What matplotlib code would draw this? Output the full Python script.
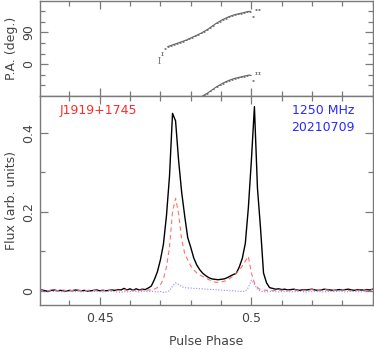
import numpy as np
import matplotlib
matplotlib.use("Agg")
import matplotlib.pyplot as plt
from matplotlib.ticker import MultipleLocator, FixedLocator

# ---------------- data ----------------
phase = np.round(np.arange(0.430, 0.5405, 0.001), 3)

total_I = [
    0.003, 0.002, 0.000, -0.001, 0.001, 0.002, 0.000, 0.001, 0.000, -0.001,
    0.001, 0.000, 0.002, 0.001, 0.000, 0.001, -0.001, 0.000, 0.001, 0.002,
    0.000, 0.001, 0.000, 0.001, 0.002, 0.001, 0.003, 0.002, 0.006, 0.002,
    0.005, 0.001, 0.005, 0.002, 0.004, 0.003, 0.007, 0.012, 0.028, 0.048,
    0.078, 0.118, 0.190, 0.290, 0.449, 0.430, 0.330, 0.250, 0.190, 0.135,
    0.110, 0.083, 0.065, 0.053, 0.044, 0.038, 0.033, 0.030, 0.029, 0.028,
    0.029, 0.030, 0.033, 0.037, 0.041, 0.044, 0.060, 0.082, 0.120, 0.210,
    0.330, 0.466, 0.260, 0.160, 0.045, 0.020, 0.008, 0.006, 0.004, 0.005,
    0.003, 0.004, 0.002, 0.003, 0.004, 0.002, 0.001, 0.003, 0.002, 0.003,
    0.004, 0.002, 0.001, 0.002, 0.004, 0.003, 0.002, 0.001, 0.002, 0.003,
    0.002, 0.003, 0.004, 0.002, 0.001, 0.003, 0.002, 0.002, 0.003, 0.002,
    0.004,
]

linear_L = [
    0.002, 0.001, 0.001, 0.000, 0.002, 0.001, 0.000, 0.001, 0.002, 0.000,
    0.000, 0.001, 0.002, 0.000, 0.001, 0.000, 0.001, 0.002, 0.001, 0.000,
    0.001, 0.002, 0.000, 0.001, 0.000, 0.002, 0.001, 0.001, 0.003, 0.001,
    0.002, 0.000, 0.002, 0.001, 0.002, 0.001, 0.002, 0.002, 0.004, 0.008,
    0.015, 0.030, 0.060, 0.110, 0.200, 0.234, 0.195, 0.130, 0.095, 0.078,
    0.063, 0.053, 0.045, 0.040, 0.036, 0.032, 0.028, 0.025, 0.022, 0.021,
    0.022, 0.024, 0.027, 0.032, 0.037, 0.044, 0.052, 0.063, 0.075, 0.087,
    0.045, 0.020, 0.008, 0.003, 0.002, 0.001, 0.002, 0.000, 0.001, 0.002,
    0.001, 0.002, 0.000, 0.001, 0.003, 0.001, 0.000, 0.002, 0.001, 0.002,
    0.003, 0.001, 0.000, 0.002, 0.003, 0.002, 0.001, 0.000, 0.002, 0.001,
    0.002, 0.003, 0.001, 0.000, 0.002, 0.001, 0.002, 0.003, 0.001, 0.002,
    0.003,
]

circular_V = [
    -0.002, -0.001, -0.002, -0.003, -0.001, -0.002, -0.001, -0.002, -0.003, -0.002,
    -0.001, -0.002, -0.002, -0.001, -0.003, -0.002, -0.001, -0.002, -0.002, -0.001,
    -0.002, -0.003, -0.002, -0.001, -0.002, -0.002, -0.003, -0.004, -0.002, -0.003,
    -0.002, -0.001, -0.002, -0.003, -0.002, -0.001, -0.002, -0.001, -0.002, -0.003,
    -0.002, -0.004, -0.003, 0.000, 0.012, 0.020, 0.016, 0.010, 0.008, 0.007,
    0.007, 0.006, 0.006, 0.005, 0.005, 0.004, 0.004, 0.003, 0.003, 0.002,
    0.002, 0.001, 0.001, 0.000, 0.000, -0.001, -0.001, -0.002, -0.001, 0.008,
    0.027, 0.016, 0.004, -0.001, -0.002, -0.003, -0.002, -0.001, -0.002, -0.003,
    -0.002, -0.001, -0.002, -0.003, -0.002, -0.002, -0.001, -0.002, -0.003, -0.002,
    -0.002, -0.001, -0.002, -0.002, -0.003, -0.002, -0.001, -0.002, -0.002, -0.001,
    -0.002, -0.003, -0.002, -0.001, -0.002, -0.002, -0.003, -0.002, -0.001, -0.002,
    -0.002,
]

pa_phase = [
    0.4695, 0.4705, 0.4715, 0.4725, 0.4735, 0.4745, 0.4755, 0.4765, 0.4775, 0.4785,
    0.4795, 0.4805, 0.4815, 0.4825, 0.4835, 0.4845, 0.4855, 0.4865, 0.4875, 0.4885,
    0.4895, 0.4905, 0.4915, 0.4925, 0.4935, 0.4945, 0.4955, 0.4965, 0.4975, 0.4985,
    0.4995, 0.5005, 0.5015, 0.5025,
]
pa_deg = [
    11, 30, 45, 50, 53, 56, 59, 62, 65, 68,
    72, 76, 80, 84, 88, 93, 98, 104, 110, 116,
    121, 126, 130, 134, 137, 140, 142, 144, 146, 148,
    149.5, 134, 155, 155,
]
pa_err = [
    9, 4, 2, 1.5, 1.2, 1, 1, 1, 1, 1,
    1, 1, 1, 1, 1, 1, 1, 1, 1, 1,
    1, 1, 1, 1, 1, 1, 1, 1, 1, 1,
    1, 2, 2, 2,
]

psr_name = "J1919+1745"
freq_label = "1250 MHz"
date_label = "20210709"

# ---------------- plot ----------------
plt.rcParams['font.family'] = ['DejaVu Sans']
W, H = 374, 349
fig = plt.figure(figsize=(W / 100, H / 100), dpi=100)

left = 40 / W
right = 373 / W
ax_top = fig.add_axes([left, 1 - 96 / H, right - left, 95.5 / H])
ax_bot = fig.add_axes([left, 1 - 305 / H, right - left, (305 - 96) / H])

frame_col = '#7a7a7a'
text_col = '#444444'

for ax in (ax_top, ax_bot):
    for s in ax.spines.values():
        s.set_color(frame_col)
        s.set_linewidth(1.0)
    ax.tick_params(which='both', direction='in', top=True, right=True,
                   color=frame_col, labelcolor=text_col, labelsize=9)
    ax.tick_params(which='major', length=6, width=0.9)
    ax.tick_params(which='minor', length=3.5, width=0.9)
    ax.set_xlim(0.4303, 0.5401)
    ax.xaxis.set_major_locator(MultipleLocator(0.05))
    ax.xaxis.set_minor_locator(MultipleLocator(0.01))

# PA panel
pa_arr = np.array(pa_deg)
for off in (0, -180):
    ax_top.errorbar(pa_phase, pa_arr + off, yerr=pa_err, fmt='none',
                    ecolor='#666666', elinewidth=0.6,
                    capsize=1.0, capthick=0.5)
    ax_top.plot(pa_phase[3:31], pa_arr[3:31] + off, color='#666666', lw=0.8)
ax_top.set_ylim(-90, 180)
ax_top.yaxis.set_major_locator(FixedLocator([0, 90]))
ax_top.yaxis.set_minor_locator(FixedLocator([-60, -30, 30, 60, 120, 150]))
ax_top.tick_params(labelbottom=False)
ax_top.set_yticklabels(['0', '90'], rotation=90, va='center')
ax_top.set_ylabel('P.A. (deg.)', color=text_col, fontsize=9, labelpad=3)

# Profile panel
ax_bot.plot(phase, total_I, color='black', lw=1.0)
ax_bot.plot(phase, linear_L, color='#ff7070', lw=0.8, dashes=(4, 3))
ax_bot.plot(phase, circular_V, color='#8a8aff', lw=0.8, linestyle=(0, (1, 1.5)))
ax_bot.set_ylim(-0.036, 0.493)
ax_bot.yaxis.set_major_locator(FixedLocator([0, 0.2, 0.4]))
ax_bot.yaxis.set_minor_locator(FixedLocator([0.1, 0.3]))
ax_bot.set_yticklabels(['0', '0.2', '0.4'], rotation=90, va='center')
ax_bot.set_xticks([0.45, 0.5])
ax_bot.set_xticklabels(['0.45', '0.5'])
ax_bot.tick_params(axis='x', pad=5)
ax_bot.set_xlabel('Pulse Phase', color=text_col, fontsize=9, labelpad=7)
ax_bot.set_ylabel('Flux (arb. units)', color=text_col, fontsize=9, labelpad=3)

ax_bot.text(0.06, 0.93, psr_name, transform=ax_bot.transAxes, color='#ff2a2a',
            fontsize=9, ha='left', va='center')
ax_bot.text(0.945, 0.93, freq_label, transform=ax_bot.transAxes, color='#2a2aff',
            fontsize=9, ha='right', va='center')
ax_bot.text(0.945, 0.85, date_label, transform=ax_bot.transAxes, color='#2a2aff',
            fontsize=9, ha='right', va='center')

fig.savefig('out.png', dpi=100)
